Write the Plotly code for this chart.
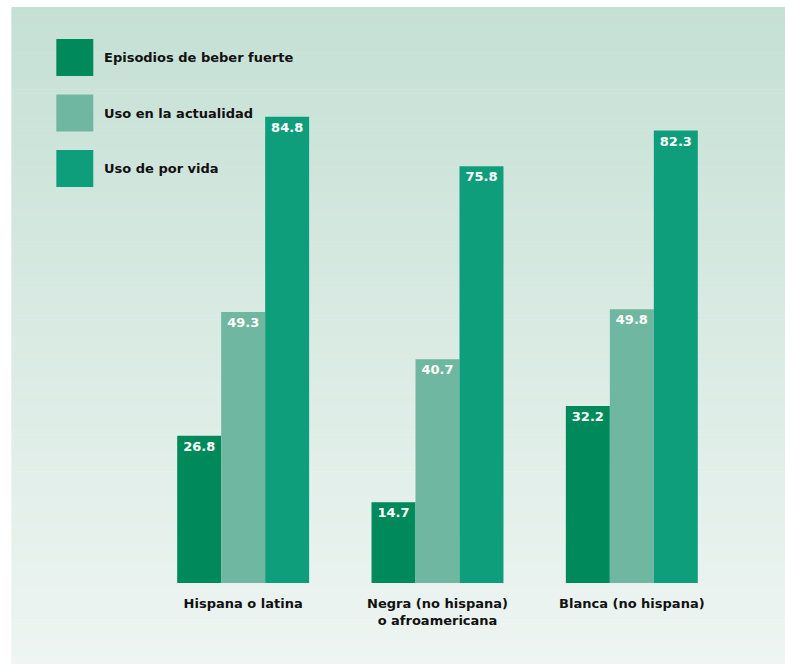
import plotly.graph_objects as go

# ---- data ----
categories = ["Hispana o latina", "Negra (no hispana)<br>o afroamericana", "Blanca (no hispana)"]
series_names = ["Episodios de beber fuerte", "Uso en la actualidad", "Uso de por vida"]
heavy_episodes = [26.8, 14.7, 32.2]
current_use = [49.3, 40.7, 49.8]
lifetime_use = [84.8, 75.8, 82.3]

series_values = [heavy_episodes, current_use, lifetime_use]
colors = ["#008a5b", "#6fb7a1", "#0f9e7c"]

FONT = "DejaVu Sans, Liberation Sans, Arial, sans-serif"

W, H = 785, 664
ML, MR, MT, MB = 145.75, 55.75, 20, 81.3
PW = W - ML - MR
PH = H - MT - MB


def px_x(x):
    return (x - ML) / PW


def px_y(y):
    return (H - MB - y) / PH


fig = go.Figure()
for name, vals, col in zip(series_names, series_values, colors):
    fig.add_trace(go.Bar(
        x=categories, y=vals, name=name,
        marker=dict(color=col, line=dict(width=0)),
        text=[f"{v:.1f}" for v in vals],
        textposition="inside", insidetextanchor="end",
        textangle=0, constraintext="none",
        textfont=dict(family=FONT, size=13, color="white", weight="bold"),
        hoverinfo="skip",
    ))

shapes = []
# vertical gradient panel behind the chart
top_rgb = (197, 224, 213)
bot_rgb = (238, 245, 242)
y0, y1, x0 = 7, H, 11
n = 160
step = (y1 - y0) / n
for i in range(n):
    t = (i + 0.5) / n
    c = tuple(round(a + (b - a) * t) for a, b in zip(top_rgb, bot_rgb))
    ya = y0 + i * step
    yb = min(y1, ya + step + 0.6)
    shapes.append(dict(type="rect", xref="paper", yref="paper", layer="below",
                       x0=px_x(x0), x1=px_x(W + 2), y0=px_y(yb), y1=px_y(ya),
                       fillcolor=f"rgb{c}", line=dict(width=0)))

# legend swatches and labels
annotations = []
sw_top = [39, 94.5, 150]
for name, col, t in zip(series_names, colors, sw_top):
    shapes.append(dict(type="rect", xref="paper", yref="paper", layer="above",
                       x0=px_x(56), x1=px_x(93), y0=px_y(t + 37), y1=px_y(t),
                       fillcolor=col, line=dict(width=0)))
    annotations.append(dict(text=name, xref="paper", yref="paper",
                            x=px_x(102), y=px_y(t + 18.5), xanchor="left",
                            yanchor="middle", showarrow=False,
                            font=dict(family=FONT, size=13, color="#111111",
                                      weight="bold")))

fig.update_layout(
    width=W, height=H,
    margin=dict(l=ML, r=MR, t=MT, b=MB, pad=0),
    barmode="group", bargap=0.321, bargroupgap=0,
    paper_bgcolor="white", plot_bgcolor="rgba(0,0,0,0)",
    showlegend=False,
    shapes=shapes, annotations=annotations,
    xaxis=dict(showgrid=False, zeroline=False, showline=False,
               ticks="outside", ticklen=8, tickcolor="rgba(0,0,0,0)",
               tickfont=dict(family=FONT, size=13, color="#111111",
                             weight="bold")),
    yaxis=dict(range=[0, PH / 5.495], showgrid=False, zeroline=False,
               showline=False, showticklabels=False, ticks=""),
)

fig.write_html("out.html")
